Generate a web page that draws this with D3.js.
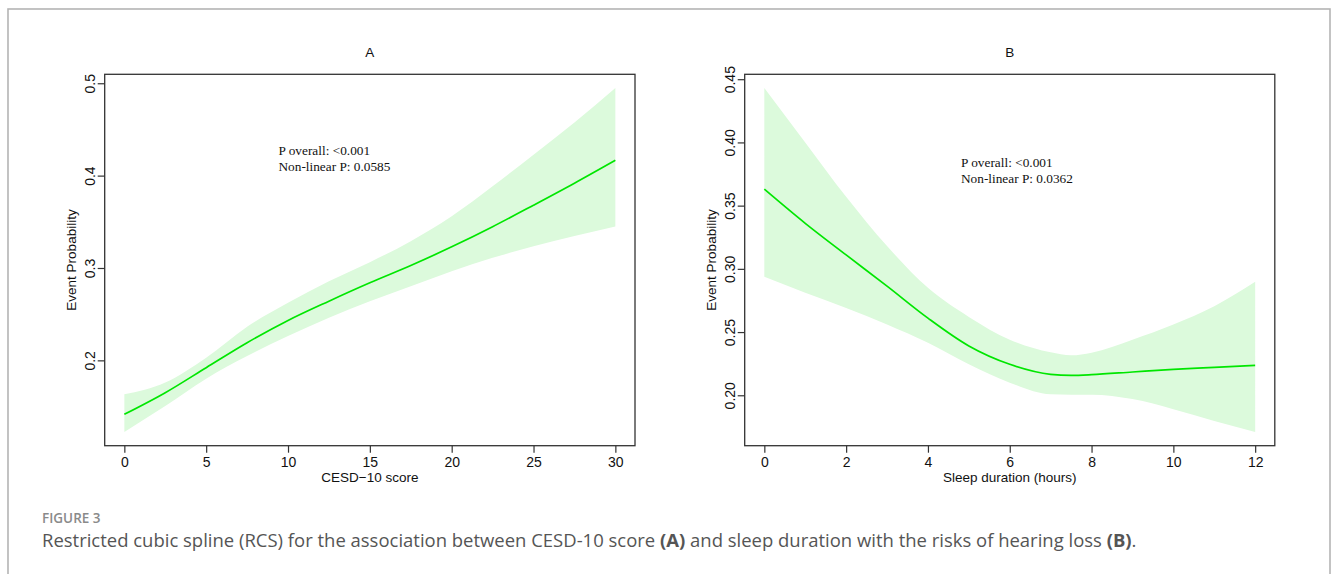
<!DOCTYPE html>
<html>
<head>
<meta charset="utf-8">
<script src="https://cdn.jsdelivr.net/npm/d3@7"></script>
<style>
  body { margin: 0; background: #fff; }
  svg text { font-family: "Liberation Sans", Arial, sans-serif; }
</style>
</head>
<body>
<svg id="fig" width="1333" height="574"></svg>
<script>
// panel A : CESD-10 score
const cesdScore = [0, 2.5, 5, 7.5, 10, 12.5, 15, 17.5, 20, 22.5, 25, 27.5, 30]
const cesdFit   = [0.1416, 0.165, 0.1921, 0.2191, 0.2432, 0.2641, 0.284, 0.3027, 0.3229, 0.3447, 0.368, 0.3918, 0.4166]
const cesdLower = [0.1225, 0.1506, 0.1802, 0.2046, 0.2263, 0.2462, 0.2641, 0.2803, 0.2965, 0.311, 0.3236, 0.3345, 0.345]
const cesdUpper = [0.1632, 0.176, 0.2029, 0.2364, 0.2624, 0.2857, 0.3063, 0.329, 0.356, 0.3884, 0.4227, 0.4576, 0.4948]
const cesdXTicks = [0, 5, 10, 15, 20, 25, 30]
const cesdYTicks = [0.2, 0.3, 0.4, 0.5]

// panel B : sleep duration
const sleepHours = [0, 1, 2, 3, 4, 5, 6, 7, 7.5, 8, 9, 10, 11, 12]
const sleepFit   = [0.363, 0.336, 0.311, 0.2863, 0.261, 0.239, 0.2245, 0.2166, 0.2158, 0.2163, 0.2184, 0.2205, 0.222, 0.2237]
const sleepLower = [0.2937, 0.281, 0.269, 0.256, 0.2415, 0.2245, 0.21, 0.2008, 0.2005, 0.2005, 0.197, 0.189, 0.1797, 0.171]
const sleepUpper = [0.443, 0.40, 0.357, 0.318, 0.285, 0.262, 0.244, 0.234, 0.2316, 0.2337, 0.244, 0.256, 0.2705, 0.2898]
const sleepXTicks = [0, 2, 4, 6, 8, 10, 12]
const sleepYTicks = [0.20, 0.25, 0.30, 0.35, 0.40, 0.45]

const svg = d3.select("#fig")

// outer frame (bottom edge sits below the screenshot)
svg.append("rect")
	.attr("x", 8).attr("y", 9)
	.attr("width", 1322).attr("height", 620)
	.attr("fill", "none")
	.attr("stroke", "#b4b4b4")
	.attr("stroke-width", 1.6)

function drawPanel(p) {
	const g = svg.append("g")

	// R style axis range: data extent padded by 4%
	const xe = d3.extent(p.xs)
	const xPad = (xe[1] - xe[0]) * 0.04
	const ye = [d3.min(p.lo), d3.max(p.hi)]
	const yPad = (ye[1] - ye[0]) * 0.04

	const x = d3.scaleLinear()
		.domain([xe[0] - xPad, xe[1] + xPad])
		.range([p.left, p.right])
	const y = d3.scaleLinear()
		.domain([ye[0] - yPad, ye[1] + yPad])
		.range([p.bottom, p.top])

	const rows = p.xs.map((v, i) => ({x: v, fit: p.fit[i], lo: p.lo[i], hi: p.hi[i]}))

	g.append("path")
		.datum(rows)
		.attr("fill", "#dcfadc")
		.attr("d", d3.area()
			.x(d => x(d.x))
			.y0(d => y(d.lo))
			.y1(d => y(d.hi))
			.curve(d3.curveMonotoneX))

	g.append("path")
		.datum(rows)
		.attr("fill", "none")
		.attr("stroke", "#00e600")
		.attr("stroke-width", 1.7)
		.attr("d", d3.line()
			.x(d => x(d.x))
			.y(d => y(d.fit))
			.curve(d3.curveMonotoneX))

	const xAxis = g.append("g")
		.attr("transform", `translate(0,${p.bottom})`)
		.call(d3.axisBottom(x).tickValues(p.xTicks).tickSize(7).tickSizeOuter(0).tickPadding(4.5))
	const yAxis = g.append("g")
		.attr("transform", `translate(${p.left},0)`)
		.call(d3.axisLeft(y).tickValues(p.yTicks).tickFormat(d3.format(p.yFmt)).tickSize(7).tickSizeOuter(0))

	for (const ax of [xAxis, yAxis]) {
		ax.select(".domain").remove()
		ax.selectAll(".tick line").attr("stroke", "#333").attr("stroke-width", 1.2)
		ax.selectAll("text")
			.attr("fill", "#111")
			.style("font-size", "14px")
			.style("font-family", "'Liberation Sans', Arial, sans-serif")
	}
	yAxis.selectAll("text")
		.attr("transform", "rotate(-90)")
		.attr("x", 0).attr("y", -10).attr("dy", 0)
		.attr("text-anchor", "middle")

	g.append("rect")
		.attr("x", p.left).attr("y", p.top)
		.attr("width", p.right - p.left).attr("height", p.bottom - p.top)
		.attr("fill", "none")
		.attr("stroke", "#333")
		.attr("stroke-width", 1.3)

	const mid = (p.left + p.right) / 2
	g.append("text")
		.attr("x", mid).attr("y", 56.5)
		.attr("text-anchor", "middle")
		.style("font-size", "13.5px")
		.attr("fill", "#111")
		.text(p.title)

	g.append("text")
		.attr("x", mid).attr("y", 482)
		.attr("text-anchor", "middle")
		.style("font-size", "13.5px")
		.attr("fill", "#111")
		.text(p.xLabel)

	g.append("text")
		.attr("transform", `translate(${p.left - 29},${(p.top + p.bottom) / 2}) rotate(-90)`)
		.attr("text-anchor", "middle")
		.style("font-size", "13.5px")
		.attr("fill", "#111")
		.text("Event Probability")

	const note = g.append("text")
		.attr("x", p.noteX).attr("y", p.noteY)
		.style("font-family", "'Liberation Serif', 'Times New Roman', serif")
		.style("font-size", "13.3px")
		.attr("fill", "#111")
	p.note.forEach((t, i) => {
		note.append("tspan").attr("x", p.noteX).attr("dy", i ? 16.5 : 0).text(t)
	})
}

drawPanel({
	left: 104.7, right: 635, top: 74.3, bottom: 445.7,
	xs: cesdScore, fit: cesdFit, lo: cesdLower, hi: cesdUpper,
	xTicks: cesdXTicks, yTicks: cesdYTicks, yFmt: ".1f",
	title: "A", xLabel: "CESD\u221210 score",
	note: ["P overall: <0.001", "Non-linear P: 0.0585"], noteX: 278.5, noteY: 154.5
})

drawPanel({
	left: 744.7, right: 1274.8, top: 74.3, bottom: 445.7,
	xs: sleepHours, fit: sleepFit, lo: sleepLower, hi: sleepUpper,
	xTicks: sleepXTicks, yTicks: sleepYTicks, yFmt: ".2f",
	title: "B", xLabel: "Sleep duration (hours)",
	note: ["P overall: <0.001", "Non-linear P: 0.0362"], noteX: 961, noteY: 166.5
})

// caption
svg.append("text")
	.attr("x", 42).attr("y", 523)
	.style("font-family", "'Open Sans', sans-serif")
	.style("font-size", "13.5px")
	.style("font-weight", 600)
	.attr("fill", "#8a8a8a")
	.text("FIGURE 3")

const caption = svg.append("text")
	.attr("x", 42).attr("y", 547)
	.style("font-family", "'Open Sans', sans-serif")
	.style("font-size", "16px")
	.attr("fill", "#555")
const capParts = [
	["Restricted cubic spline (RCS) for the association between CESD-10 score ", 400],
	["(A)", 700],
	[" and sleep duration with the risks of hearing loss ", 400],
	["(B)", 700],
	[".", 400]
]
capParts.forEach(([t, w]) => caption.append("tspan").style("font-weight", w).text(t))
// fit caption to the width seen in the figure
const capW = caption.node().getComputedTextLength()
caption.style("font-size", (16 * 1095 / capW).toFixed(2) + "px")
</script>
</body>
</html>
